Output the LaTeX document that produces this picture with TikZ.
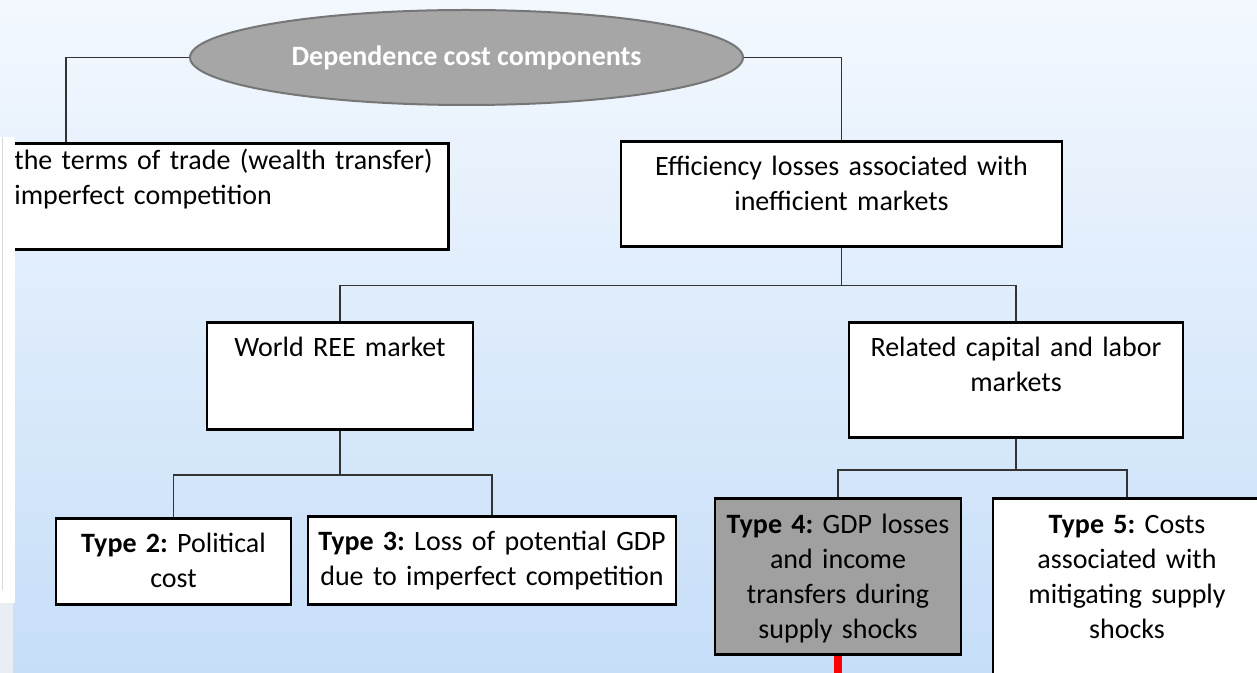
\documentclass[tikz,border=0pt]{standalone}
\usepackage{fontspec}
\setmainfont{Carlito}
\usetikzlibrary{shapes.geometric}

\definecolor{bgtop}{HTML}{F3F8FE}
\definecolor{bgbot}{HTML}{C6DEF8}
\definecolor{ovalfill}{HTML}{A6A6A6}
\definecolor{ovalline}{HTML}{767676}
\definecolor{typefour}{HTML}{A0A0A0}
\definecolor{stripgray}{HTML}{E8EEF3}

\begin{document}
\begin{tikzpicture}[x=0.5pt, y=-0.5pt,
	font=\fontsize{14pt}{17.5pt}\selectfont\frenchspacing,
	box/.style={draw=black, line width=1.4pt, fill=white, anchor=north, align=center, inner xsep=5pt, text height=10pt},
	link/.style={draw=black!80, line width=0.7pt}]
	\useasboundingbox (0,0) rectangle (1257,673);
	\clip (0,0) rectangle (1257,673);
	\shade [top color=bgtop, bottom color=bgbot] (0,0) rectangle (1257,673);

	\node [ellipse, fill=ovalfill, draw=ovalline, line width=1pt, minimum width=276.5pt, minimum height=47.5pt, inner sep=0pt, text=white, font=\fontsize{14pt}{17.5pt}\selectfont\bfseries] (dep) at (466.5,57.5) {Dependence cost components};

	\node [box, anchor=north west, align=left, text width=212pt, inner ysep=3pt, text depth=37pt] (tot) at (3,142) {the terms of trade (wealth transfer)\\imperfect competition};
	\node [box, text width=210.5pt, inner ysep=7pt, text depth=28.5pt] (eff) at (841.5,140) {Efficiency losses associated with\\inefficient markets};
	\node [box, text width=123pt, inner ysep=7pt, text depth=29.5pt] (wrm) at (340,321) {World REE market};
	\node [box, text width=157pt, inner ysep=7pt, text depth=33.5pt] (rcl) at (1016,321) {Related capital and labor\\markets};
	\node [box, text width=107.5pt, inner ysep=7pt, text depth=19pt] (ty2) at (173.5,517) {\textbf{Type 2:} Political\\cost};
	\node [box, text width=174pt, inner ysep=7pt, text depth=20pt] (ty3) at (492,515) {\textbf{Type 3:} Loss of potential GDP\\due to imperfect competition};
	\node [box, fill=typefour, text width=113pt, inner ysep=7.5pt, text depth=53pt] (ty4) at (838,497) {\textbf{Type 4:} GDP losses\\and income\\transfers during\\supply shocks};
	\node [box, text width=124pt, inner ysep=7.5pt, text depth=86.5pt] (ty5) at (1127,497) {\textbf{Type 5:} Costs\\associated with\\mitigating supply\\shocks};

	\coordinate (totin) at (66,142);
	\coordinate (ty4end) at (838,690);
	\draw [link] (dep.west) -| (totin);
	\draw [link] (dep.east) -| (eff.north);
	\draw [link] (eff.south) -- ++(0,38) coordinate (effbus);
	\draw [link] (effbus) -| (wrm.north);
	\draw [link] (effbus) -| (rcl.north);
	\draw [link] (wrm.south) -- ++(0,44) coordinate (wrmbus);
	\draw [link] (wrmbus) -| (ty2.north);
	\draw [link] (wrmbus) -| (ty3.north);
	\draw [link] (rcl.south) -- ++(0,31) coordinate (rclbus);
	\draw [link] (rclbus) -| (ty4.north);
	\draw [link] (rclbus) -| (ty5.north);
	\draw [red, line width=4pt] (ty4.south) -- (ty4end);

	% cut-off strip at the left edge
	\fill [white] (0,137) rectangle (15,603);
	\draw [black!15, line width=0.5pt] (2,137) -- (2,590);
	\fill [stripgray] (0,603) rectangle (13,673);
\end{tikzpicture}
\end{document}
